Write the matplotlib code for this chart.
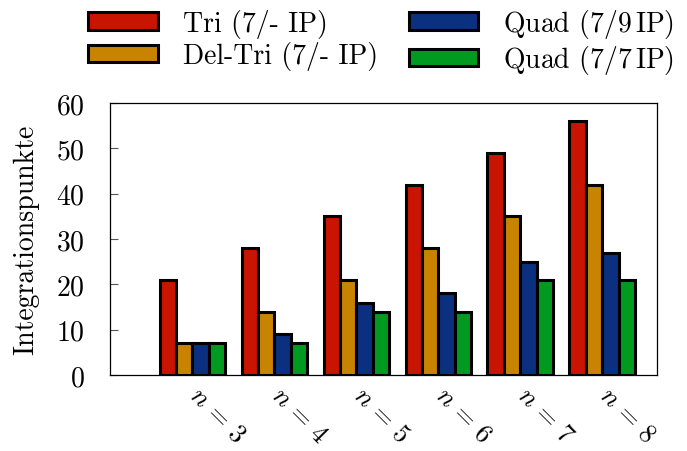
import numpy as np
import matplotlib
matplotlib.use('Agg')
import matplotlib.pyplot as plt
from matplotlib.transforms import ScaledTranslation

plt.rcParams['font.family'] = 'serif'
plt.rcParams['font.serif'] = ['cmr10']
plt.rcParams['mathtext.fontset'] = 'cm'
plt.rcParams['axes.formatter.use_mathtext'] = True

# data
groups = ['$n\\,=\\,3$', '$n\\,=\\,4$', '$n\\,=\\,5$', '$n\\,=\\,6$', '$n\\,=\\,7$', '$n\\,=\\,8$']
series = ['Tri (7/- IP)', 'Del-Tri (7/- IP)', 'Quad (7/9$\\,$IP)', 'Quad (7/7$\\,$IP)']
tri = [21, 28, 35, 42, 49, 56]
del_tri = [7, 14, 21, 28, 35, 42]
quad9 = [7, 9, 16, 18, 25, 27]
quad7 = [7, 7, 14, 14, 21, 21]
colors = ['#c81400', '#c88400', '#0c3080', '#009a20']

fig = plt.figure(figsize=(6.87, 4.52), dpi=100)
ax = fig.add_axes([0.160, 0.168, 0.796, 0.602])

x = np.arange(len(groups))
w = 0.2
handles = []
for i, vals in enumerate([tri, del_tri, quad9, quad7]):
    b = ax.bar(x + (i - 1.5) * w, vals, w, color=colors[i],
               edgecolor='black', linewidth=2.2, label=series[i], zorder=3)
    handles.append(b)

ax.set_xlim(-1.006, 5.665)
ax.set_ylim(0, 60)
ax.set_yticks(range(0, 61, 10))
ax.set_xticks(x)
ax.set_xticklabels(groups, rotation=-45, ha='left', va='top', rotation_mode='anchor')
ax.tick_params(axis='x', length=0, pad=5, labelsize=19)
# nudge the rotated labels a bit to the right
offset = ScaledTranslation(7 / 72, 0, fig.dpi_scale_trans)
for lab in ax.get_xticklabels():
    lab.set_transform(lab.get_transform() + offset)
ax.tick_params(axis='y', direction='in', length=6, width=0.8, color='#555555',
               labelsize=20, pad=18)
for s in ax.spines.values():
    s.set_linewidth(0.9)
ax.set_ylabel('Integrationspunkte', fontsize=20, labelpad=12)

fig.legend(handles, series, loc='center', bbox_to_anchor=(0.555, 0.906),
           ncol=2, frameon=False, fontsize=20, handlelength=2.5,
           handleheight=0.6, labelspacing=0.12, columnspacing=1.1,
           handletextpad=0.9)

fig.savefig('out.png', dpi=100)
